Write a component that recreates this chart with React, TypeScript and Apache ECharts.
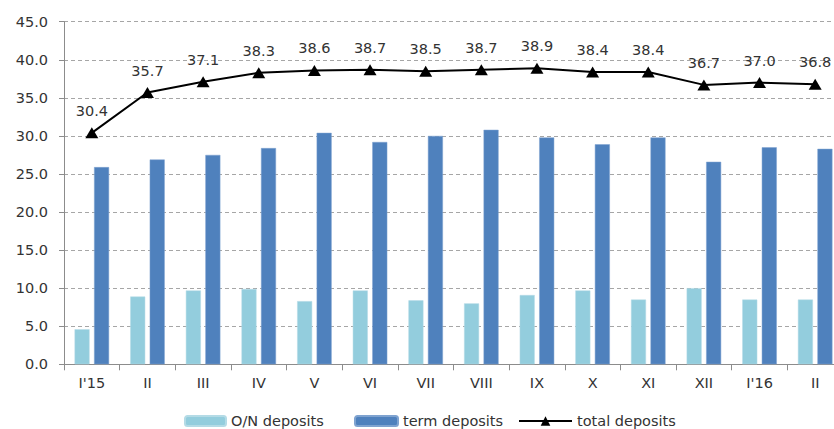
import React, { useEffect, useRef } from "react";
import * as echarts from "echarts";

// Monthly deposits, Jan 2015 – Feb 2016
const months = ["I'15", "II", "III", "IV", "V", "VI", "VII", "VIII", "IX", "X", "XI", "XII", "I'16", "II"];
const overnightDeposits = [4.6, 8.9, 9.7, 9.9, 8.3, 9.7, 8.4, 8.0, 9.1, 9.7, 8.5, 10.0, 8.5, 8.5];
const termDeposits = [25.9, 26.9, 27.5, 28.4, 30.4, 29.2, 30.0, 30.8, 29.8, 28.9, 29.8, 26.6, 28.5, 28.3];
const totalDeposits = [30.4, 35.7, 37.1, 38.3, 38.6, 38.7, 38.5, 38.7, 38.9, 38.4, 38.4, 36.7, 37.0, 36.8];

const FONT = "DejaVu Sans";
const TEXT_COLOR = "#333333";
const AXIS_COLOR = "#8c8c8c";

export default function App() {
  const ref = useRef<HTMLDivElement>(null);

  useEffect(() => {
    if (!ref.current) return;
    const chart = echarts.init(ref.current, null, { renderer: "svg" });
    const legendText = { fontFamily: FONT, fontSize: 14.5, lineHeight: 15, color: TEXT_COLOR };
    chart.setOption({
      animation: false,
      backgroundColor: "#ffffff",
      textStyle: { fontFamily: FONT },
      grid: { left: 64, top: 21.7, right: 17, bottom: 64.7, containLabel: false },
      legend: [
        {
          data: ["O/N deposits"],
          left: 184,
          top: 413.5,
          padding: 0,
          itemWidth: 41,
          itemHeight: 10,
          textStyle: legendText,
          selectedMode: false,
        },
        {
          data: ["term deposits"],
          left: 354,
          top: 413.5,
          padding: 0,
          itemWidth: 43,
          itemHeight: 10,
          textStyle: legendText,
          selectedMode: false,
        },
        {
          data: ["total deposits"],
          left: 518,
          top: 413.5,
          padding: 0,
          itemWidth: 53,
          itemHeight: 12,
          textStyle: legendText,
          selectedMode: false,
        },
      ],
      xAxis: {
        type: "category",
        data: months,
        boundaryGap: true,
        axisLine: { lineStyle: { color: AXIS_COLOR, width: 1 } },
        axisTick: { show: true, length: 6, alignWithLabel: false, lineStyle: { color: AXIS_COLOR } },
        axisLabel: { margin: 11, fontFamily: FONT, fontSize: 14.5, color: TEXT_COLOR },
      },
      yAxis: {
        type: "value",
        min: 0,
        max: 45,
        interval: 5,
        axisLine: { show: true, lineStyle: { color: AXIS_COLOR, width: 1 } },
        axisTick: { show: true, length: 5, lineStyle: { color: AXIS_COLOR } },
        axisLabel: {
          margin: 16,
          fontFamily: FONT,
          fontSize: 14.5,
          color: TEXT_COLOR,
          formatter: (v: number) => v.toFixed(1),
        },
        splitLine: { show: true, lineStyle: { color: "#a6a6a6", width: 1, type: [4, 3] } },
      },
      series: [
        {
          name: "O/N deposits",
          type: "bar",
          data: overnightDeposits,
          barWidth: 15,
          barGap: "30%",
          itemStyle: { color: "#93CDDD", borderColor: "#b4dbe6", borderWidth: 0.5 },
        },
        {
          name: "term deposits",
          type: "bar",
          data: termDeposits,
          barWidth: 15,
          barGap: "30%",
          itemStyle: { color: "#4F81BD", borderColor: "#7fa3d0", borderWidth: 0.5 },
        },
        {
          name: "total deposits",
          type: "line",
          data: totalDeposits,
          symbol: "triangle",
          symbolSize: [13, 11],
          lineStyle: { color: "#000000", width: 2 },
          itemStyle: { color: "#000000" },
          label: {
            show: true,
            position: "top",
            distance: 9,
            fontFamily: FONT,
            fontSize: 14.5,
            color: TEXT_COLOR,
            formatter: (p: any) => Number(p.value).toFixed(1),
          },
          z: 5,
        },
      ],
    });
    return () => chart.dispose();
  }, []);

  return (
    <div style={{ position: "absolute", left: 0, top: 0, width: 834, height: 429, overflow: "hidden", background: "#fff" }}>
      <div ref={ref} style={{ width: 860, height: 429 }} />
    </div>
  );
}
